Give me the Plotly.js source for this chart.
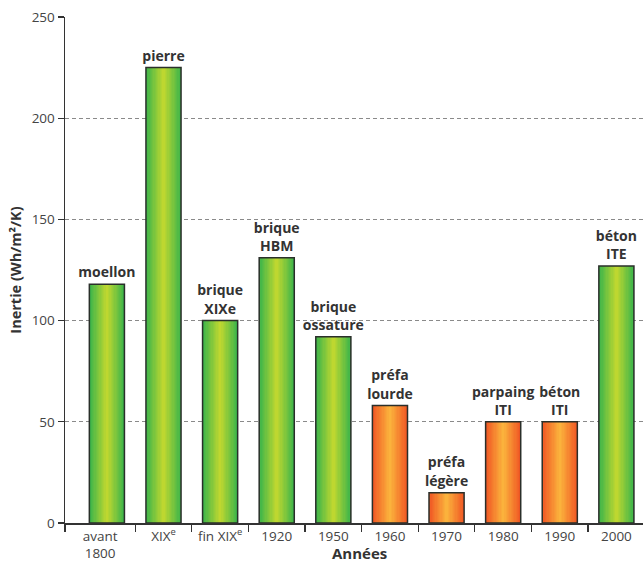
<!DOCTYPE html>
<html>
<head>
<meta charset="utf-8">
<script src="https://cdn.plot.ly/plotly-3.0.1.min.js"></script>
<style>html,body{margin:0;padding:0;background:#fff;}#chart{width:643px;height:562px;}</style>
</head>
<body>
<div id="chart"></div>
<script>
// ---- data ----
const periods = ['avant<br>1800', 'XIX<sup>e</sup>', 'fin XIX<sup>e</sup>', '1920', '1950', '1960', '1970', '1980', '1990', '2000'];
const materials = ['moellon', 'pierre', 'brique<br>XIXe', 'brique<br>HBM', 'brique<br>ossature', 'préfa<br>lourde', 'préfa<br>légère', 'parpaing<br>ITI', 'béton<br>ITI', 'béton<br>ITE'];
const inertia = [118, 225, 100, 131, 92, 58, 15, 50, 50, 127];
const family = ['lourd', 'lourd', 'lourd', 'lourd', 'lourd', 'leger', 'leger', 'leger', 'leger', 'lourd'];
const yTicks = [0, 50, 100, 150, 200, 250];

// ---- styles ----
const palette = {
  lourd: {edge: [61, 181, 74], center: [190, 215, 48]},
  leger: {edge: [240, 88, 36], center: [251, 178, 60]}
};
const font = '"Open Sans", "Noto Sans", sans-serif';
const xs = periods.map((_, i) => i);
const xMin = -0.74, xMax = 9.47;
const barW = 0.62;
const N = 14;

function mix(a, b, t) {
  return 'rgb(' + a.map((v, i) => Math.round(v + (b[i] - v) * t)).join(',') + ')';
}

const traces = [];
for (let k = 0; k < N; k++) {
  const t = k / (N - 1);
  traces.push({
    type: 'bar', x: xs, y: inertia,
    width: barW * (N - k) / N,
    marker: {color: family.map(f => mix(palette[f].edge, palette[f].center, t)), line: {width: 0}},
    hoverinfo: 'skip', showlegend: false
  });
}
traces.push({
  type: 'bar', x: xs, y: inertia, width: barW,
  marker: {color: 'rgba(0,0,0,0)', line: {color: '#2a2f2a', width: 1.5}},
  text: materials, textposition: 'outside', constraintext: 'none', cliponaxis: false,
  textfont: {family: font, size: 14, color: '#333', weight: 'bold'},
  hoverinfo: 'skip', showlegend: false
});

const labelPos = xs.map(i => i === 0 ? (xMin + 0.5) / 2 : i);
const boundaries = [xMin].concat(xs.slice(0, -1).map(i => i + 0.5));

const layout = {
  width: 643, height: 562,
  margin: {l: 65, r: 0, t: 17, b: 39},
  paper_bgcolor: '#fff', plot_bgcolor: '#fff',
  barmode: 'overlay', bargap: 0,
  font: {family: font, size: 13, color: '#333'},
  xaxis: {
    range: [xMin, xMax], tickmode: 'array', tickvals: labelPos, ticktext: periods,
    ticks: '', showgrid: false, zeroline: false,
    showline: true, linecolor: '#333', linewidth: 1.5,
    tickfont: {family: font, size: 13.5, color: '#444'},
    minor: {tickmode: 'array', tickvals: boundaries, ticks: 'outside', ticklen: 7, tickcolor: '#333', tickwidth: 1.2, showgrid: false},
    fixedrange: true
  },
  yaxis: {
    range: [0, 250], tickmode: 'array', tickvals: yTicks,
    ticks: 'outside', ticklen: 6, tickcolor: '#333', tickwidth: 1.2,
    showline: true, linecolor: '#333', linewidth: 1.5,
    showgrid: true, gridcolor: '#8a8a8a', gridwidth: 1, griddash: '4px,3px',
    zeroline: false,
    tickfont: {family: font, size: 13.5, color: '#444'},
    title: {text: 'Inertie (Wh/m²/K)', font: {family: font, size: 14.5, color: '#333', weight: 'bold'}, standoff: 6},
    fixedrange: true
  },
  annotations: [{
    text: 'Années', xref: 'paper', yref: 'paper', x: 0.51, y: 0, yshift: -30,
    xanchor: 'center', yanchor: 'middle', showarrow: false,
    font: {family: font, size: 15, color: '#333', weight: 'bold'}
  }]
};

Plotly.newPlot('chart', traces, layout, {displayModeBar: false, staticPlot: true});
</script>
</body>
</html>
